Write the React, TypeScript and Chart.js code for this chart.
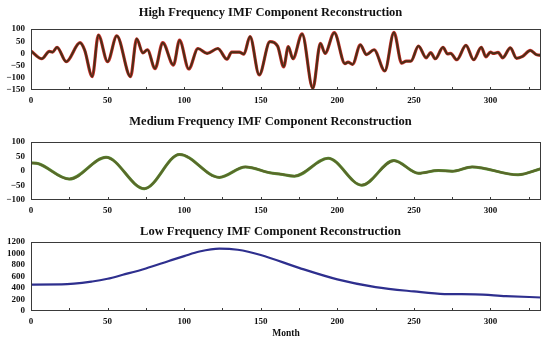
import { useEffect, useRef } from 'react';
import { Chart, registerables } from 'chart.js';

Chart.register(...registerables);

const FONT = '"Liberation Serif", "Times New Roman", serif';

// ---- High frequency IMF reconstruction (month, value) ----
const hfMonths = [0, 7, 12, 14, 17, 23, 32, 35, 40, 44, 50, 56, 65, 69, 73, 76, 81, 86, 93, 97, 103, 109, 115, 122, 128, 131, 136, 139, 143, 149, 156, 161, 165, 168, 171, 177, 184, 189, 192, 198, 205, 207, 210, 215, 219, 224, 231, 237, 242, 245, 248, 253, 258, 261, 264, 269, 272, 274, 278, 284, 289, 294, 297, 300, 302, 305, 308, 313, 317, 321, 326, 330, 333];
const hfValues = [10, -22, 8, 5, 25, -34, 44, 14, -95, 75, -34, 72, -95, 60, 2, 15, -62, 44, -48, 54, -64, 20, 0, 20, -24, 5, 5, -3, 69, -88, 48, 30, -55, 28, -22, 80, -143, 41, 0, 85, -42, -36, -45, 35, -5, 15, -72, 86, -40, -32, -32, 30, -18, 3, -22, 25, -2, 0, -26, 33, -26, 25, -14, 5, 0, 4, -18, 23, -20, -12, 12, -5, -8];

// ---- Medium frequency IMF reconstruction ----
const mfMonths = [0, 5, 25, 49, 74, 97, 123, 140, 156, 163, 172, 194, 216, 237, 253, 266, 275, 288, 318, 333];
const mfValues = [28, 25, -28, 47, -61, 57, -22, 14, -6, -11, -18, 44, -49, 36, -8, 2, -1, 14, -13, 8];

// ---- Low frequency IMF reconstruction ----
const lfMonths = [0, 20, 40, 50, 60, 75, 90, 100, 110, 123, 135, 150, 175, 200, 225, 250, 270, 290, 310, 333];
const lfValues = [460, 462, 513, 560, 630, 740, 870, 955, 1035, 1085, 1065, 975, 750, 550, 415, 340, 295, 290, 260, 235];

const xMin = 0;
const xMax = 333;
const xStep = 50;
const minorStep = 25;

const titles = [
  'High Frequency IMF Component Reconstruction',
  'Medium Frequency IMF Component Reconstruction',
  'Low Frequency IMF Component Reconstruction',
];
const xAxisTitle = 'Month';

const toPts = (ms: number[], vs: number[]) => ms.map((m, i) => ({ x: m, y: vs[i] }));

const framePlugin = {
  id: 'frame',
  afterDatasetsDraw(chart: any) {
    const { ctx, chartArea: a, scales } = chart;
    ctx.save();
    ctx.strokeStyle = '#3a3a3a';
    ctx.lineWidth = 1;
    ctx.strokeRect(a.left + 0.5, a.top + 0.5, a.right - a.left - 1, a.bottom - a.top - 1);
    const xs = scales.x;
    ctx.beginPath();
    for (let m = minorStep; m < xs.max; m += minorStep) {
      const px = Math.round(xs.getPixelForValue(m)) + 0.5;
      ctx.moveTo(px, a.bottom);
      ctx.lineTo(px, a.bottom - 3);
    }
    ctx.stroke();
    ctx.restore();
  },
};

const minus = (v: any) => String(v).replace('-', '\u2212');

function makeConfig(opts: {
  title: string;
  datasets: any[];
  yMin: number;
  yMax: number;
  yStep: number;
  titlePad: { top: number; bottom: number };
  xHeight: number;
  showXTitle: boolean;
}): any {
  return {
    type: 'line',
    data: { datasets: opts.datasets },
    plugins: [framePlugin],
    options: {
      responsive: false,
      animation: false,
      events: [],
      layout: { padding: { left: 0, right: 9, top: 0, bottom: 0 } },
      plugins: {
        legend: { display: false },
        tooltip: { enabled: false },
        title: {
          display: true,
          text: opts.title,
          color: '#111',
          font: { family: FONT, size: 12.5, weight: 'bold', lineHeight: 1.2 },
          padding: opts.titlePad,
        },
      },
      elements: { point: { radius: 0 } },
      scales: {
        x: {
          type: 'linear',
          min: xMin,
          max: xMax,
          grid: { display: false, drawTicks: false },
          border: { display: false },
          ticks: {
            stepSize: xStep,
            includeBounds: false,
            autoSkip: false,
            padding: 5,
            maxRotation: 0,
            color: '#111',
            font: { family: FONT, size: 9, weight: 'bold' },
          },
          title: {
            display: opts.showXTitle,
            text: xAxisTitle,
            color: '#111',
            font: { family: FONT, size: 9.5, weight: 'bold' },
            padding: { top: 0, bottom: 8 },
          },
          afterFit: (s: any) => {
            s.height = opts.xHeight;
          },
        },
        y: {
          min: opts.yMin,
          max: opts.yMax,
          grid: { display: false, drawTicks: false },
          border: { display: false },
          ticks: {
            stepSize: opts.yStep,
            includeBounds: false,
            autoSkip: false,
            padding: 6,
            color: '#111',
            font: { family: FONT, size: 9, weight: 'bold' },
            callback: (v: any) => minus(v),
          },
          afterFit: (s: any) => {
            s.width = 31;
          },
        },
      },
    },
  };
}

function Panel(props: { top: number; height: number; config: any }) {
  const ref = useRef<HTMLCanvasElement | null>(null);
  useEffect(() => {
    if (!ref.current) return;
    const chart = new Chart(ref.current, props.config);
    return () => chart.destroy();
  }, []);
  return (
    <canvas
      ref={ref}
      width={550}
      height={props.height}
      style={{ position: 'absolute', left: 0, top: props.top, width: 550, height: props.height }}
    />
  );
}

export default function App() {
  const line = (data: any[], color: string, width: number, order: number) => ({
    data,
    borderColor: color,
    borderWidth: width,
    fill: false,
    cubicInterpolationMode: 'monotone',
    pointRadius: 0,
    order,
  });

  const hf = toPts(hfMonths, hfValues);
  const mf = toPts(mfMonths, mfValues);
  const lf = toPts(lfMonths, lfValues);

  const c1 = makeConfig({
    title: titles[0],
    datasets: [line(hf, '#4a2e16', 2.0, 1), line(hf, '#c8302a', 3.2, 2)],
    yMin: -150,
    yMax: 100,
    yStep: 50,
    titlePad: { top: 5, bottom: 9 },
    xHeight: 20,
    showXTitle: false,
  });
  const c2 = makeConfig({
    title: titles[1],
    datasets: [line(mf, '#5a682a', 2.2, 1), line(mf, '#5a9a3a', 3.0, 2)],
    yMin: -100,
    yMax: 100,
    yStep: 50,
    titlePad: { top: 4, bottom: 13 },
    xHeight: 20,
    showXTitle: false,
  });
  const c3 = makeConfig({
    title: titles[2],
    datasets: [line(lf, '#2e2f8e', 2.2, 1)],
    yMin: 0,
    yMax: 1200,
    yStep: 200,
    titlePad: { top: 4, bottom: 3 },
    xHeight: 36,
    showXTitle: true,
  });

  return (
    <div style={{ position: 'fixed', left: 0, top: 0, width: 550, height: 347, background: '#fff' }}>
      <Panel top={0} height={110} config={c1} />
      <Panel top={110} height={110} config={c2} />
      <Panel top={220} height={127} config={c3} />
    </div>
  );
}
